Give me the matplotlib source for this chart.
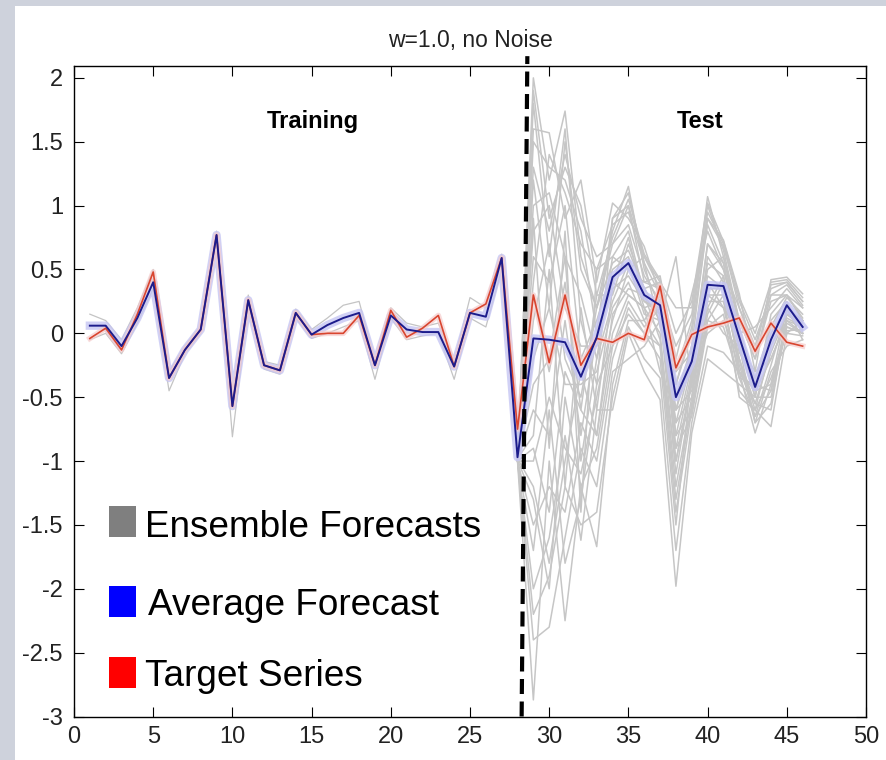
import numpy as np
import matplotlib
matplotlib.use("Agg")
import matplotlib.pyplot as plt
from matplotlib.patches import Rectangle

plt.rcParams['font.family'] = ['Liberation Sans', 'DejaVu Sans']

# time steps
steps = list(range(1, 47))
test_steps = list(range(28, 47))

target = [-0.04, 0.04, -0.13, 0.15, 0.48, -0.35, -0.13, 0.03, 0.77, -0.57,
          0.26, -0.25, -0.29, 0.16, -0.01, 0.00, 0.00, 0.14, -0.25, 0.18,
          -0.03, 0.04, 0.14, -0.26, 0.16, 0.23, 0.59, -0.75,
          0.30, -0.23, 0.30, -0.25, -0.04, -0.07, 0.00, -0.05, 0.37, -0.27,
          -0.01, 0.05, 0.08, 0.12, -0.14, 0.08, -0.07, -0.10]

average = [0.06, 0.06, -0.10, 0.12, 0.40, -0.35, -0.13, 0.03, 0.77, -0.57,
           0.26, -0.25, -0.29, 0.16, -0.01, 0.065, 0.12, 0.16, -0.25, 0.14,
           0.03, 0.01, 0.01, -0.26, 0.16, 0.13, 0.59, -0.97,
           -0.04, -0.05, -0.07, -0.34, -0.03, 0.44, 0.55, 0.30, 0.22, -0.50,
           -0.22, 0.38, 0.37, -0.03, -0.42, -0.05, 0.22, 0.05]

# spread of the ensemble over the training part (steps 1..28)
train_hi = [0.15, 0.10, -0.05, 0.20, 0.50, -0.30, -0.10, 0.06, 0.80, -0.50,
            0.30, -0.22, -0.25, 0.19, 0.03, 0.12, 0.22, 0.25, -0.22, 0.20,
            0.08, 0.05, 0.08, -0.22, 0.28, 0.20, 0.62, -0.70]
train_lo = [-0.05, 0.00, -0.16, 0.08, 0.35, -0.45, -0.16, 0.00, 0.72, -0.81,
            0.22, -0.28, -0.32, 0.12, -0.04, 0.00, 0.05, 0.10, -0.36, 0.12,
            -0.05, -0.02, 0.00, -0.36, 0.12, 0.05, 0.50, -1.00]

# ensemble members over the test part (steps 28..46)
members = [
    [-0.95, 2.00, 1.20, 1.74, 0.60, 0.20, 0.80, 1.15, 0.50, 0.20, -0.30, 0.10, 1.07, 0.60, 0.10, -0.20, 0.30, 0.30, 0.10],
    [-0.95, 1.60, 1.57, 0.90, 1.20, 0.40, 1.02, 0.90, 0.68, 0.30, -0.60, -0.10, 0.90, 0.73, 0.31, -0.30, 0.42, 0.44, 0.31],
    [-0.98, 1.30, 0.80, 1.40, 0.90, 0.60, 0.70, 1.00, 0.40, 0.45, -0.20, 0.31, 0.80, 0.50, 0.00, 0.05, 0.20, 0.35, 0.20],
    [-0.96, 1.00, 1.10, 0.60, 0.30, -0.20, 0.60, 0.80, 0.30, 0.10, 0.60, -0.40, 0.60, 0.40, -0.10, -0.50, 0.10, 0.25, 0.00],
    [-0.97, 0.60, 0.40, 1.00, -0.20, 0.10, 0.50, 0.60, 0.20, 0.25, -0.70, -0.20, 0.50, 0.60, 0.05, -0.40, 0.00, 0.20, 0.10],
    [-0.97, 0.30, -0.30, 0.40, -0.60, 0.30, 0.30, 0.70, 0.35, 0.15, -0.90, -0.30, 0.30, 0.30, -0.20, -0.60, -0.10, 0.15, 0.05],
    [-0.98, -0.20, 0.20, -0.40, -0.40, -0.30, 0.20, 0.40, 0.10, 0.30, -0.50, -0.10, 0.40, 0.20, 0.00, -0.45, -0.20, 0.10, 0.00],
    [-0.99, -0.60, -0.80, 0.10, -0.80, 0.00, 0.40, 0.30, 0.20, 0.00, -1.20, -0.50, 0.20, 0.45, -0.30, -0.78, -0.40, 0.20, -0.05],
    [-1.00, -1.00, -0.50, -0.90, -1.10, -0.50, 0.10, 0.50, 0.40, 0.35, -0.80, -0.60, 0.10, 0.30, -0.50, -0.60, -0.73, 0.00, 0.10],
    [-1.00, -1.50, -1.20, -1.40, -0.70, -1.00, -0.20, 0.20, 0.00, -0.20, -1.50, -0.30, 0.00, 0.10, -0.20, -0.70, -0.30, -0.10, -0.05],
    [-1.00, -2.00, -1.60, -0.80, -1.62, -0.60, -0.60, 0.00, -0.30, -0.52, -1.98, -0.78, -0.20, -0.30, -0.40, -0.50, -0.50, 0.05, 0.00],
    [-1.00, -2.87, -1.00, -2.25, -1.20, -1.67, -0.40, 0.10, 0.10, -0.10, -1.00, -0.40, 0.20, 0.00, -0.10, -0.30, -0.20, 0.10, 0.05],
    [-0.99, -2.40, -2.30, -1.60, -0.90, -1.20, -0.30, -0.20, -0.10, 0.10, -0.70, -0.50, 0.30, 0.20, -0.30, -0.55, -0.60, 0.15, 0.10],
    [-0.98, -1.20, -1.80, -1.00, -0.30, -0.80, 0.00, 0.30, 0.20, -0.30, -0.60, -0.20, 0.70, 0.50, 0.20, -0.10, 0.35, 0.40, 0.25],
    [-0.97, 0.90, -0.90, 0.80, -1.40, 0.50, 0.60, 0.50, 0.60, 0.40, 0.20, 0.20, 1.00, 0.65, 0.10, -0.20, 0.25, 0.30, 0.20],
    [-0.96, 1.80, 0.60, 1.60, 0.10, -0.40, 0.90, 1.10, 0.55, 0.05, -0.40, 0.00, 0.85, 0.55, -0.05, -0.35, 0.05, 0.28, 0.15],
    [-0.95, 1.50, 1.30, 1.20, 0.80, 0.00, 0.90, 1.00, 0.60, 0.35, -0.40, 0.05, 0.95, 0.70, 0.20, -0.15, 0.38, 0.40, 0.25],
    [-0.96, 1.20, 0.20, 1.50, 0.50, 0.20, 0.70, 0.85, 0.45, 0.25, -0.80, -0.25, 0.70, 0.55, 0.00, -0.50, 0.15, 0.30, 0.12],
    [-0.97, 0.80, 1.00, 0.20, -0.10, -0.10, 0.40, 0.75, 0.25, 0.20, -0.30, -0.15, 0.55, 0.45, -0.15, -0.35, -0.05, 0.22, 0.08],
    [-0.98, 0.10, 0.70, -0.20, -0.50, 0.20, 0.55, 0.65, 0.35, 0.40, -1.00, -0.35, 0.45, 0.35, -0.25, -0.65, -0.25, 0.18, 0.02],
    [-0.99, -0.40, -0.20, 0.60, -1.00, -0.20, 0.25, 0.55, 0.15, 0.10, -0.60, -0.45, 0.25, 0.25, -0.35, -0.40, -0.45, 0.12, 0.05],
    [-1.00, -0.90, -1.40, -0.30, -0.60, -0.80, 0.15, 0.35, 0.30, -0.05, -1.30, -0.55, 0.15, 0.40, -0.10, -0.70, -0.55, 0.08, 0.00],
    [-1.00, -1.70, -0.60, -1.80, -1.30, -0.40, -0.10, 0.25, 0.05, 0.20, -0.90, -0.65, 0.05, 0.15, -0.45, -0.60, -0.35, 0.00, -0.02],
    [-0.99, -2.20, -1.90, -1.20, -1.50, -1.40, -0.50, 0.05, -0.20, -0.35, -1.70, -0.70, -0.10, -0.15, -0.30, -0.45, -0.40, 0.02, 0.03],
    [-0.98, 0.40, 1.40, 1.10, 0.70, 0.50, 0.85, 0.95, 0.55, 0.30, -0.10, 0.15, 0.90, 0.68, 0.25, -0.05, 0.30, 0.38, 0.22],
    [-0.97, 1.90, 0.90, 1.30, 1.00, 0.30, 0.75, 1.05, 0.62, 0.42, 0.00, 0.25, 1.02, 0.72, 0.28, 0.00, 0.40, 0.42, 0.28],
    [-0.98, -0.80, 0.50, -1.20, 0.20, -0.60, 0.35, 0.45, 0.25, 0.15, -1.10, -0.35, 0.35, 0.35, -0.20, -0.55, -0.15, 0.15, 0.05],
    [-0.99, -1.30, -2.00, -0.50, -1.20, -0.90, -0.10, 0.15, 0.00, -0.10, -1.40, -0.60, 0.10, 0.05, -0.35, -0.65, -0.45, 0.05, 0.00],
]

split_x = [28.26, 28.62]
split_y = [-3.0, 2.17]

legend_labels = ['Ensemble Forecasts', 'Average Forecast', 'Target Series']
legend_colors = ['#7f7f7f', '#0000ff', '#ff0000']

W, H = 886, 760
fig = plt.figure(figsize=(W / 100, H / 100), dpi=100)
fig.patch.set_facecolor('#ced2dc')
fig.patches.append(Rectangle((15 / W, 0), 1 - 15 / W, 1 - 6 / H,
                             transform=fig.transFigure, facecolor='white',
                             edgecolor='none', zorder=-1))

ax = fig.add_axes([74 / W, 43.5 / H, 792 / W, 650.5 / H])
ax.set_facecolor('white')

tr = steps[:28]
ax.plot(tr, train_hi, color='#c4c4c4', lw=0.9, zorder=1)
ax.plot(tr, train_lo, color='#c4c4c4', lw=0.9, zorder=1)
for m in members:
    ax.plot(test_steps, m, color='#c6c6c6', lw=1.1, zorder=1)

# soft halos round the two main series
ax.plot(steps, average, color='#c6c6f3', lw=6, alpha=0.8, zorder=2,
        solid_joinstyle='round')
ax.plot(steps, target, color='#f6cccc', lw=4, alpha=0.7, zorder=2,
        solid_joinstyle='round')

ax.plot(steps, target, color='#d9452f', lw=1.2, zorder=3)
ax.plot(steps, average, color='#1c1c8c', lw=1.4, zorder=4)

ax.plot(split_x, split_y, color='black', lw=3, dashes=(3.6, 1.8),
        clip_on=False, zorder=5)

ax.text(15.1, 1.66, 'Training', ha='center', va='center', fontsize=17,
        fontweight='bold')
ax.text(39.5, 1.66, 'Test', ha='center', va='center', fontsize=17,
        fontweight='bold')

ax.set_xlim(0, 50)
ax.set_ylim(-3, 2.093)
ax.set_xticks(np.arange(0, 51, 5))
ax.set_yticks(np.arange(-3, 2.01, 0.5))
ax.set_yticklabels(['-3', '-2.5', '-2', '-1.5', '-1', '-0.5', '0', '0.5',
                    '1', '1.5', '2'])
ax.tick_params(direction='in', top=True, right=True, length=7, width=0.8,
               labelsize=17, colors='black', labelcolor='#222222')
ax.tick_params(axis='y', pad=8)
ax.tick_params(axis='x', pad=7)
for s in ax.spines.values():
    s.set_linewidth(1.0)
    s.set_color('black')

ax.set_title('w=1.0, no Noise', fontsize=16.5, color='#222222', pad=14)

# legend drawn as coloured squares with large labels
sq_top = [506, 586, 657]
baselines = [537, 615, 686]
text_left = [145, 148, 145]
for lab, col, t, b, tl in zip(legend_labels, legend_colors, sq_top, baselines, text_left):
    fig.patches.append(Rectangle((109 / W, 1 - (t + 31) / H), 27 / W, 31 / H,
                                 transform=fig.transFigure, facecolor=col,
                                 edgecolor='none', zorder=6))
    fig.text(tl / W, 1 - b / H, lab, fontsize=26.6, va='baseline', ha='left',
             color='black', zorder=6)

fig.savefig('out.png', dpi=100)
